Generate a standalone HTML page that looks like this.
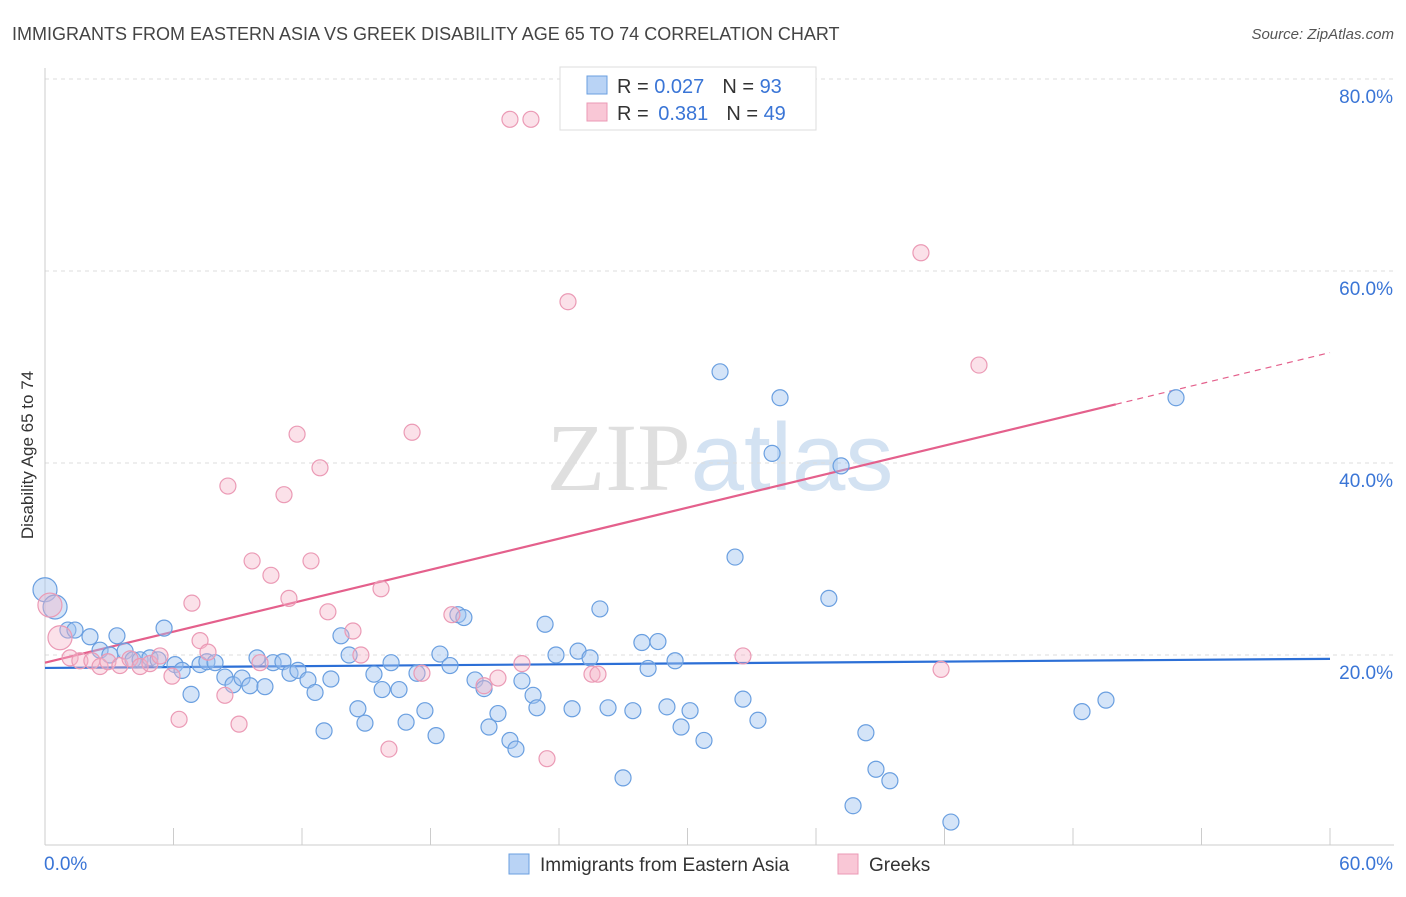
<!DOCTYPE html>
<html><head><meta charset="utf-8"><style>
body{margin:0;background:#fff;font-family:"Liberation Sans",sans-serif;}
svg text{font-family:"Liberation Sans",sans-serif;}
</style></head><body>
<svg id="chart" width="1406" height="892" viewBox="0 0 1406 892" xmlns="http://www.w3.org/2000/svg">
<text x="12" y="40" font-size="18" fill="#444">IMMIGRANTS FROM EASTERN ASIA VS GREEK DISABILITY AGE 65 TO 74 CORRELATION CHART</text>
<text x="1394" y="39" font-size="15" fill="#555" text-anchor="end" font-style="italic">Source: ZipAtlas.com</text>
<text x="720" y="490" font-size="96" text-anchor="middle" fill="#ddd" opacity="0.8"><tspan font-family="Liberation Serif" fill="#d8d8d8">ZIP</tspan><tspan fill="#c9dbf0">atlas</tspan></text>
<text transform="translate(33,455) rotate(-90)" font-size="17" fill="#333" text-anchor="middle">Disability Age 65 to 74</text>
<g id="grid"></g><g id="axes"></g><g id="trends"></g><g id="points"></g>
<g>
<rect x="560" y="67" width="256" height="63" fill="#fff" stroke="#ddd"/>
<rect x="587" y="76" width="20" height="18" fill="#b9d3f5" stroke="#6a9fe0"/>
<rect x="587" y="103" width="20" height="18" fill="#f9c7d6" stroke="#eb9ab5"/>
<text x="617" y="93" font-size="20" fill="#333">R = <tspan fill="#3a75d6">0.027</tspan><tspan dx="18">N = </tspan><tspan fill="#3a75d6">93</tspan></text>
<text x="617" y="120" font-size="20" fill="#333">R = <tspan fill="#3a75d6" dx="4">0.381</tspan><tspan dx="18">N = </tspan><tspan fill="#3a75d6">49</tspan></text>
</g>
<g>
<rect x="509" y="854" width="20" height="20" fill="#b9d3f5" stroke="#6a9fe0"/>
<text x="540" y="871" font-size="19" fill="#333">Immigrants from Eastern Asia</text>
<rect x="838" y="854" width="20" height="20" fill="#f9c7d6" stroke="#eb9ab5"/>
<text x="869" y="871" font-size="19" fill="#333">Greeks</text>
</g>
</svg>
<script>
const yTicks=[20,40,60,80];
const yTickLabels=["20.0%","40.0%","60.0%","80.0%"];
const xTickLabels=["0.0%","60.0%"];
const blueX=[0.0,0.47,1.07,1.4,2.1,3.36,2.57,3.03,3.74,4.11,4.44,4.9,5.28,5.56,6.07,6.4,6.82,7.24,7.56,7.94,8.4,8.78,9.2,9.57,9.9,10.27,10.65,11.11,11.44,11.81,12.28,12.61,13.03,13.35,13.82,14.2,14.61,14.94,15.36,15.74,16.16,16.53,16.86,17.37,17.74,18.26,18.44,18.91,19.28,19.56,20.08,20.5,20.73,21.15,21.71,21.99,22.27,22.79,22.97,23.35,23.86,24.61,24.89,25.45,25.91,26.29,26.99,27.45,27.87,28.16,28.62,29.04,29.42,29.7,30.12,30.77,31.52,32.22,32.59,33.29,33.95,34.32,36.6,37.17,37.73,38.33,38.8,39.45,42.3,48.42,49.54,52.81];
const blueY=[26.8,25.0,22.6,22.6,21.9,22.0,20.5,20.0,20.4,19.5,19.5,19.7,19.5,22.8,19.0,18.4,15.9,19.0,19.3,19.2,17.7,16.9,17.6,16.8,19.7,16.7,19.2,19.3,18.1,18.4,17.4,16.1,12.1,17.5,22.0,20.0,14.4,12.9,18.0,16.4,19.2,16.4,13.0,18.1,14.2,11.6,20.1,18.9,24.2,23.9,17.4,16.5,12.5,13.9,11.1,10.2,17.3,15.8,14.5,23.2,20.0,14.4,20.4,19.7,24.8,14.5,7.2,14.2,21.3,18.6,21.4,14.6,19.4,12.5,14.2,11.1,49.5,30.2,15.4,13.2,41.0,46.8,25.9,39.7,4.3,11.9,8.1,6.9,2.6,14.1,15.3,46.8];
const pinkX=[0.23,0.7,1.17,1.63,2.19,2.57,2.94,3.5,3.97,4.44,4.9,5.37,5.93,6.26,6.86,7.24,7.61,8.4,8.54,9.06,9.67,10.04,10.55,11.16,11.39,11.77,12.42,12.84,13.21,14.38,14.75,15.69,16.06,17.14,17.6,19.0,20.5,21.15,21.71,22.27,22.69,23.44,24.42,25.54,25.82,32.59,40.9,41.84,43.61];
const pinkY=[25.2,21.8,19.7,19.4,19.4,18.8,19.3,18.9,19.6,18.8,19.1,19.9,17.8,13.3,25.4,21.5,20.3,15.8,37.6,12.8,29.8,19.2,28.3,36.7,25.9,43.0,29.8,39.5,24.5,22.5,20.0,26.9,10.2,43.2,18.1,24.2,16.8,17.6,75.8,19.1,75.8,9.2,56.8,18.0,18.0,19.9,61.9,18.5,50.2];
const blueTrend=[18.65,19.6];
const pinkTrend=[19.2,51.5];
const pinkSolidEnd=50;
const NS="http://www.w3.org/2000/svg";
const X=v=>45+v/60*1285, Y=v=>847-v*9.6;
function mk(parent,tag,attrs){const e=document.createElementNS(NS,tag);for(const k in attrs)e.setAttribute(k,attrs[k]);document.getElementById(parent).appendChild(e);return e;}
yTicks.forEach((t,i)=>{
 const g=mk('grid','line',{x1:45,x2:1394,y1:Y(t),y2:Y(t),stroke:'#ddd','stroke-dasharray':'4,4'});
 
 
 const l=mk('grid','text',{x:1393,y:Y(t)+24,'font-size':19,fill:'#3a75d6','text-anchor':'end'});
 l.textContent=yTickLabels[i];
 
 
});
const ax=mk('axes','line',{x1:45,x2:1394,y1:845,y2:845,stroke:'#ccc'});


const ay=mk('axes','line',{x1:45,x2:45,y1:68,y2:845,stroke:'#ccc'});


for(let i=0;i<=10;i++){
 const t=mk('axes','line',{x1:X(i*6),x2:X(i*6),y1:828,y2:845,stroke:'#ccc'});
 
 
}
[[0,'start'],[60,'end']].forEach((p,i)=>{
 const l=mk('axes','text',{x:i?1393:44,y:870,'font-size':19,fill:'#3a75d6','text-anchor':p[1]});
 l.textContent=xTickLabels[i];
 
 
});
const bt=mk('trends','line',{x1:X(0),y1:Y(blueTrend[0]),x2:X(60),y2:Y(blueTrend[1]),stroke:'#2c6fd6','stroke-width':2.2});


const pe=pinkTrend[0]+(pinkTrend[1]-pinkTrend[0])*pinkSolidEnd/60;
const pt=mk('trends','line',{x1:X(0),y1:Y(pinkTrend[0]),x2:X(pinkSolidEnd),y2:Y(pe),stroke:'#e4608c','stroke-width':2.2});


const pd=mk('trends','line',{x1:X(pinkSolidEnd),y1:Y(pe),x2:X(60),y2:Y(pinkTrend[1]),stroke:'#e4608c','stroke-width':1.2,'stroke-dasharray':'6,5'});


blueX.forEach((x,i)=>{
 const c=mk('points','circle',{cx:X(x),cy:Y(blueY[i]),r:i<2?12:8,fill:'rgba(160,195,240,0.45)',stroke:'#6a9fe0','stroke-width':1.2});
 
 
});
pinkX.forEach((x,i)=>{
 const c=mk('points','circle',{cx:X(x),cy:Y(pinkY[i]),r:i<2?12:8,fill:'rgba(245,180,200,0.4)',stroke:'#eb9ab5','stroke-width':1.2});
 
 
});
</script>
</body></html>
